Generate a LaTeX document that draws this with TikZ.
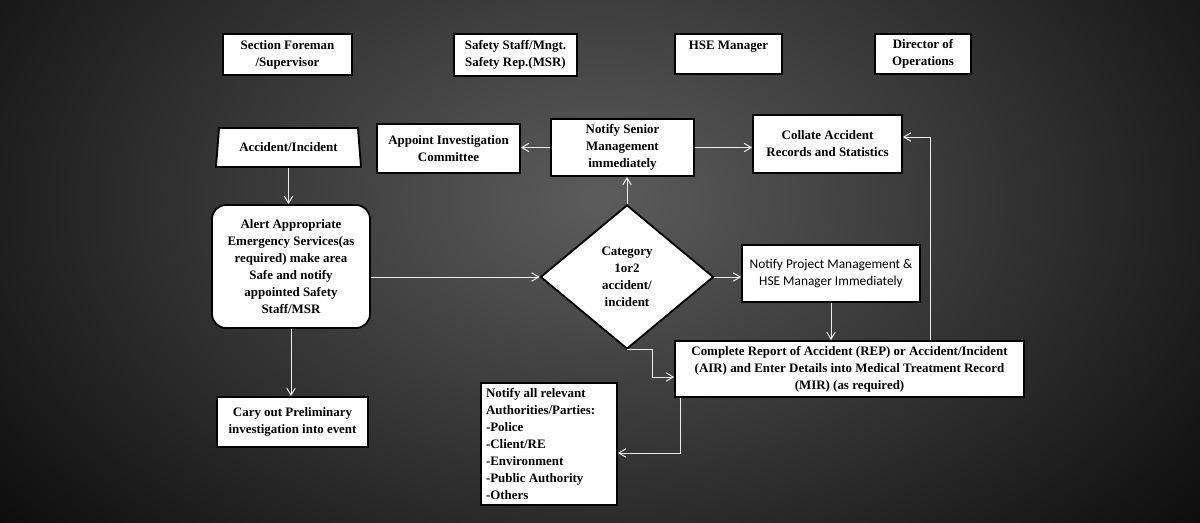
\documentclass[tikz,border=0pt]{standalone}
\usepackage{fontspec}
\setmainfont{Liberation Serif}
\newfontfamily\calfont{Carlito}
\usetikzlibrary{arrows.meta,shapes.geometric,calc,positioning}
\newdimen\pxu \pxu=0.025cm
\tikzset{
  flow/.style={-{Straight Barb[length=5pt,width=6pt]}, draw=white!85!gray, line width=0.7pt},
  box/.style={draw=black, line width=1.3pt, fill=white, inner sep=1pt, align=center, font=\fontsize{9.2}{12}\selectfont\bfseries},
  hdr/.style={box},
  rbox/.style={box, rounded corners=14\pxu},
  startbox/.style={box, trapezium, trapezium angle=75.6, trapezium stretches body},
  decision/.style={box, diamond, shape aspect=1.2, inner sep=0pt}
}

\begin{document}
\begin{tikzpicture}[x=0.025cm,y=-0.025cm]
  % backdrop
  \begin{scope}
    \clip (0,0) rectangle (1200,523);
    \shade[inner color=gray!72!black, outer color=black] (-300,-400) rectangle (1500,800);
  \end{scope}
  \useasboundingbox (0,0) rectangle (1200,523);
  % column heads
  \node[hdr, minimum width=129\pxu, minimum height=41\pxu] (sect) at (287.5,54.5) {Section Foreman\\/Supervisor};
  \node[hdr, minimum width=123\pxu, minimum height=42\pxu] (safety) at (515.5,55) {Safety Staff/Mngt.\\Safety Rep.(MSR)};
  \node[hdr, minimum width=107\pxu, minimum height=40\pxu] (hse) at (728.5,54) {HSE Manager\\~};
  \node[hdr, minimum width=96\pxu, minimum height=40\pxu] (dir) at (923,54) {Director of\\Operations};
  % flow
  \node[startbox, minimum width=145\pxu, minimum height=39\pxu] (acc) at (288.5,147.5) {Accident/Incident};
  \node[box, minimum width=143\pxu, minimum height=49\pxu] (appoint) at (448.5,148.5) {Appoint Investigation\\Committee};
  \node[box, minimum width=143\pxu, minimum height=57\pxu] (senior) at (622.5,147.5) {Notify Senior\\Management\\immediately};
  \node[box, minimum width=149\pxu, minimum height=58\pxu] (collate) at (827.5,144) {Collate Accident\\Records and Statistics};
  \node[rbox, minimum width=158\pxu, minimum height=123\pxu] (alert) at (291,266.5) {Alert Appropriate\\Emergency Services(as\\required) make area\\Safe and notify\\appointed Safety\\Staff/MSR};
  \node[decision, minimum width=173\pxu, minimum height=144\pxu] (cat) at (627,277) {Category\\1or2\\accident/\\incident};
  \node[box, minimum width=178\pxu, minimum height=57\pxu, font=\calfont\fontsize{9.5}{12.5}\selectfont] (notproj) at (831,273.5) {Notify Project Management \&\\HSE Manager Immediately};
  \node[box, minimum width=349\pxu, minimum height=56\pxu] (report) at (849.5,369) {Complete Report of Accident (REP) or Accident/Incident\\(AIR) and Enter Details into Medical Treatment Record\\(MIR) (as required)};
  \node[box, align=flush left, text width=126\pxu, inner xsep=5\pxu, minimum height=122\pxu] (authorities) at (549,444) {Notify all relevant\\Authorities/Parties:\\-Police\\-Client/RE\\-Environment\\-Public Authority\\-Others};
  \node[box, minimum width=151\pxu, minimum height=50\pxu] (prelim) at (292.5,422) {Cary out Preliminary\\investigation into event};
  \coordinate (fb) at (930,137);
  \coordinate (ab) at (680,453);
  % connectors
  \draw[flow] (acc.south) -- (acc.south |- alert.north);
  \draw[flow] (alert.south) -- (alert.south |- prelim.north);
  \draw[flow] (alert.east |- cat.west) -- (cat.west);
  \draw[flow] (cat.north) -- (cat.north |- senior.south);
  \draw[flow] (senior.west) -- (senior.west -| appoint.east);
  \draw[flow] (senior.east) -- (senior.east -| collate.west);
  \draw[flow] (cat.east) -- (cat.east -| notproj.west);
  \draw[flow] (notproj.south) -- (notproj.south |- report.north);
  \draw[flow] (cat.south) -- ++(25,0) |- ($(report.west)+(0,8)$);
  \draw[flow] (report.north -| fb) -- (fb) -- (fb -| collate.east);
  \draw[flow] (report.south -| ab) -- (ab) -- (ab -| authorities.east);
\end{tikzpicture}
\end{document}
